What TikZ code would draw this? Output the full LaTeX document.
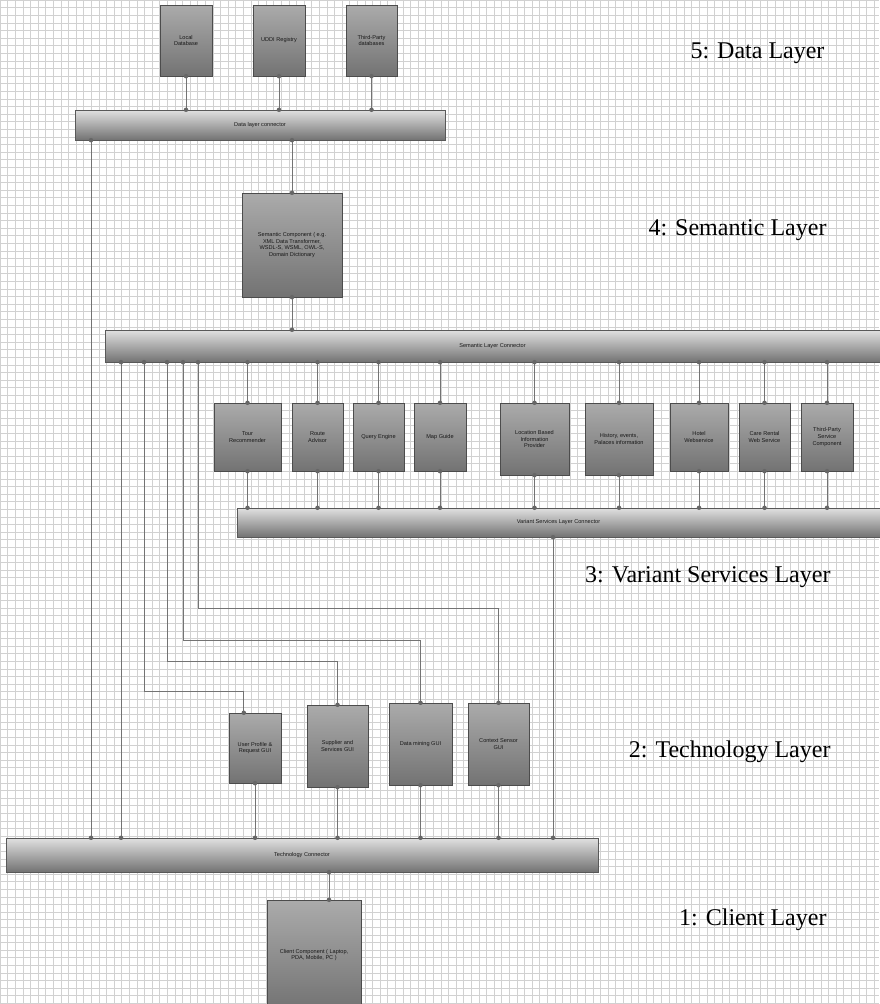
\documentclass[tikz,border=0pt]{standalone}
\usepackage{fontspec}
\setmainfont{Liberation Serif}
\setsansfont{Liberation Sans}
\usetikzlibrary{positioning, calc}

\begin{document}
\begin{tikzpicture}[
    x=1pt, y=-1pt, font=\sffamily\fontsize{5.6}{6.7}\selectfont,
    comp/.style={draw=black!70, top color=black!33, bottom color=black!55,
                 align=center, inner sep=1pt, text=black!90},
    bus/.style={draw=black!65, top color=black!12, bottom color=black!55,
                inner sep=0pt, text=black!90},
    link/.style={draw=black!55, line width=0.8pt},
    tab/.style={fill=black!60, circle, minimum size=4.5pt, inner sep=0pt},
    layer/.style={font=\rmfamily\fontsize{24}{27}\selectfont, anchor=east}
]
\fill[white] (0,0) rectangle (879,1004);
\useasboundingbox (0,0) rectangle (879,1004);
\draw[black!18, line width=0.3pt, step=7.6pt] (0,1004) grid (879,0);

\foreach \n/\cx/\w/\t in {ldb/186/52/{Local\\Database}, uddi/279/52/{UDDI Registry},
                         tpdb/371.5/51/{Third-Party\\databases}} {
   \node[comp, minimum width=\w, minimum height=71] (\n) at (\cx,40.5) {\t};
}
\node[bus, minimum width=370, minimum height=30] (dlc) at (260,125) {Data layer connector};
\node[comp, minimum width=100, minimum height=104] (sem) at (292,245)
     {Semantic Component ( e.g.\\XML Data Transformer,\\WSDL-S, WSML, OWL-S,\\Domain Dictionary};
\node[bus, minimum width=775, minimum height=32] (slc) at (492.5,346) {Semantic Layer Connector};

\foreach \n/\cx/\w/\h/\t in {tour/247.5/67/68/{Tour\\Recommender}, route/317.5/51/68/{Route\\Advisor},
                            query/378.5/51/68/{Query Engine}, map/440/52/68/{Map Guide},
                            lbip/534.5/69/72/{Location Based\\Information\\Provider},
                            hist/619/68/72/{History, events,\\Palaces information},
                            hotel/699/58/68/{Hotel\\Webservice}, car/764.5/51/68/{Care Rental\\Web Service},
                            tpsc/827/52/68/{Third-Party\\Service\\Component}} {
   \pgfmathsetmacro{\cy}{403+\h/2}
   \node[comp, minimum width=\w, minimum height=\h] (\n) at (\cx,\cy) {\t};
   \draw[link] (\n.north |- slc.south) -- (\n.north) node[tab, pos=0]{} node[tab, pos=1]{};
}
\node[bus, minimum width=643, minimum height=29] (vslc) at (558.5,522.5) {Variant Services Layer Connector};
\foreach \n in {tour, route, query, map, lbip, hist, hotel, car, tpsc} {
   \draw[link] (\n.south) -- (\n.south |- vslc.north) node[tab, pos=0]{} node[tab, pos=1]{};
}

\node[comp, minimum width=52, minimum height=70] (upr) at (255,748) {User Profile \&\\Request GUI};
\node[comp, minimum width=61, minimum height=82] (sup) at (337.5,746) {Supplier and\\Services GUI};
\node[comp, minimum width=63, minimum height=82] (dm) at (420.5,744) {Data mining GUI};
\node[comp, minimum width=61, minimum height=82] (cs) at (498.5,744) {Context Sensor\\GUI};
\node[bus, minimum width=592, minimum height=34] (tc) at (302,855) {Technology Connector};
\node[comp, minimum width=94, minimum height=110] (client) at (314,955)
     {Client Component ( Laptop,\\PDA, Mobile, PC )};

\coordinate (lane0) at (91,0);
\coordinate (lane1) at (121,0);
\coordinate (lane2) at (144,0);
\coordinate (lane3) at (167,0);
\coordinate (lane4) at (183,0);
\coordinate (lane5) at (198,0);
\coordinate (lane6) at (553,0);
\coordinate (lane7) at (329,0);

\foreach \n in {ldb, uddi, tpdb} {
   \draw[link] (\n.south) -- (\n.south |- dlc.north) node[tab, pos=0]{} node[tab, pos=1]{};
}
\draw[link] (sem.north) -- (sem.north |- dlc.south) node[tab, pos=0]{} node[tab, pos=1]{};
\draw[link] (sem.south) -- (sem.south |- slc.north) node[tab, pos=0]{} node[tab, pos=1]{};
\draw[link] (lane0 |- dlc.south) -- (lane0 |- tc.north) node[tab, pos=0]{} node[tab, pos=1]{};
\draw[link] (lane1 |- slc.south) -- (lane1 |- tc.north) node[tab, pos=0]{} node[tab, pos=1]{};
\draw[link] (lane2 |- slc.south) |- ($(upr.north west)+(15,-21)$) -- ($(upr.north west)+(15,0)$)
     node[tab, pos=1]{};
\draw[link] (lane3 |- slc.south) |- ($(sup.north)+(0,-43)$) -- (sup.north) node[tab, pos=1]{};
\draw[link] (lane4 |- slc.south) |- ($(dm.north)+(0,-62)$) -- (dm.north) node[tab, pos=1]{};
\draw[link] (lane5 |- slc.south) |- ($(cs.north)+(0,-94)$) -- (cs.north) node[tab, pos=1]{};
\foreach \l in {lane2, lane3, lane4, lane5} {
   \node[tab] at (\l |- slc.south) {};
}
\foreach \n in {upr, sup, dm, cs} {
   \draw[link] (\n.south) -- (\n.south |- tc.north) node[tab, pos=0]{} node[tab, pos=1]{};
}
\draw[link] (lane6 |- vslc.south) -- (lane6 |- tc.north) node[tab, pos=0]{} node[tab, pos=1]{};
\draw[link] (lane7 |- tc.south) -- (lane7 |- client.north) node[tab, pos=0]{} node[tab, pos=1]{};

\node[layer] (l5) at (828,53) {5: Data Layer};
\node[layer] (l4) at (830,230) {4: Semantic Layer};
\node[layer] (l3) at (834,577) {3: Variant Services Layer};
\node[layer] (l2) at (834,752) {2: Technology Layer};
\node[layer] (l1) at (830,920) {1: Client Layer};
\end{tikzpicture}
\end{document}
